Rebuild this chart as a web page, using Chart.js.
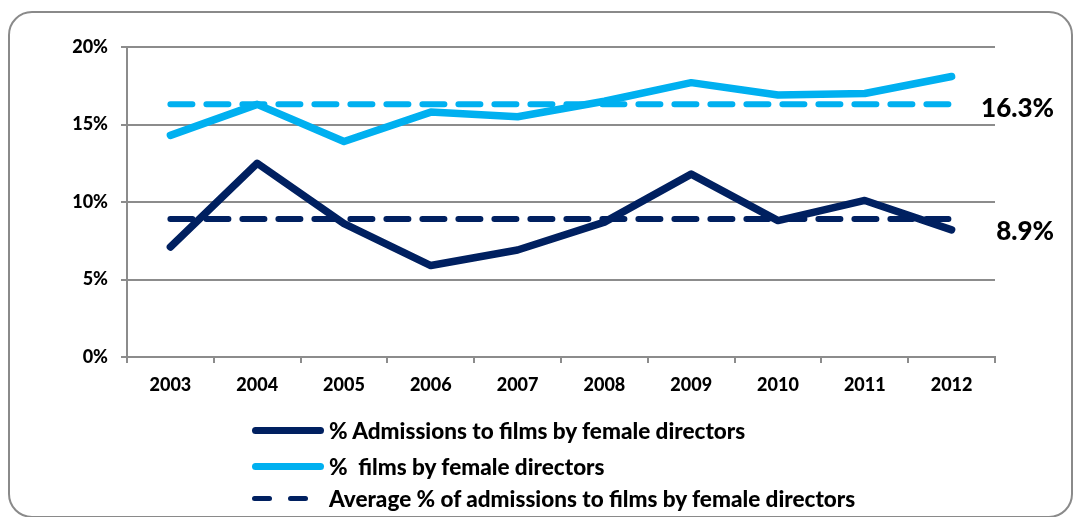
<!DOCTYPE html>
<html><head><meta charset="utf-8">
<script src="https://cdn.jsdelivr.net/npm/chart.js@4/dist/chart.umd.min.js"></script>
<style>
html,body{margin:0;padding:0;background:#fff;}
#wrap{position:relative;width:1075px;height:517px;overflow:hidden;font-family:Lato,"DejaVu Sans",sans-serif;}
#frame{position:absolute;left:8px;top:11px;width:1065px;height:507px;border:2.5px solid #8a8a8a;border-radius:24px;box-sizing:border-box;}
#c{position:absolute;left:0;top:0;}
#legend{position:absolute;left:252px;top:412px;}
.item{display:flex;align-items:center;font-weight:900;font-size:22.5px;color:#000;white-space:pre;}
.item:nth-child(1){height:36px;}
.item:nth-child(2){height:36px;}
.item:nth-child(3){height:28px;}
.sw{width:72px;height:7px;margin-right:5px;position:relative;flex:none;}
.sw.solid{border-radius:4px;}
.sw .d{position:absolute;top:1px;height:5px;width:20px;border-radius:3px;}
</style>
</head><body>
<div id="wrap">
<canvas id="c" width="1075" height="517"></canvas>
<div id="frame"></div>
<div id="legend"></div>
</div>
<script>
const years = ['2003','2004','2005','2006','2007','2008','2009','2010','2011','2012'];
const admissions = [7.1, 12.5, 8.6, 5.9, 6.9, 8.7, 11.8, 8.8, 10.1, 8.2];
const films = [14.3, 16.3, 13.9, 15.8, 15.5, 16.5, 17.7, 16.9, 17.0, 18.1];
const avgAdmissions = [8.9, 8.9, 8.9, 8.9, 8.9, 8.9, 8.9, 8.9, 8.9, 8.9];
const avgFilms = [16.3, 16.3, 16.3, 16.3, 16.3, 16.3, 16.3, 16.3, 16.3, 16.3];
const yTicks = [0, 5, 10, 15, 20];
const seriesNames = ['% Admissions to films by female directors', '%  films by female directors', 'Average % of admissions to films by female directors', 'Average % of films by female directors'];
const avgLabels = ['16.3%', '8.9%'];

const DARK = '#002060', LIGHT = '#00B0F0', GRID = '#8c8c8c';

const avgLabelPlugin = {
  id: 'avgLabels',
  afterDatasetsDraw(chart) {
    const ctx = chart.ctx, y = chart.scales.y, area = chart.chartArea;
    ctx.save();
    ctx.font = '900 26px Lato';
    ctx.fillStyle = '#000';
    ctx.textAlign = 'right';
    ctx.textBaseline = 'middle';
    ctx.fillText(avgLabels[0], area.right + 59, y.getPixelForValue(avgFilms[0]) + 4);
    ctx.fillText(avgLabels[1], area.right + 59, y.getPixelForValue(avgAdmissions[0]) + 13);
    ctx.restore();
  }
};

const chart = new Chart(document.getElementById('c'), {
  type: 'line',
  data: {
    labels: years,
    datasets: [
      {label: seriesNames[0], data: admissions, borderColor: DARK, borderWidth: 7.5, borderCapStyle: 'round', borderJoinStyle: 'round', pointRadius: 0, tension: 0, legend: true},
      {label: seriesNames[1], data: films, borderColor: LIGHT, borderWidth: 7.5, borderCapStyle: 'round', borderJoinStyle: 'round', pointRadius: 0, tension: 0, legend: true},
      {label: seriesNames[2], data: avgAdmissions, borderColor: DARK, borderWidth: 6, borderDash: [22, 14], borderCapStyle: 'round', pointRadius: 0, tension: 0, legend: true},
      {label: seriesNames[3], data: avgFilms, borderColor: LIGHT, borderWidth: 6, borderDash: [22, 14], borderCapStyle: 'round', pointRadius: 0, tension: 0, legend: false}
    ]
  },
  options: {
    responsive: false,
    animation: false,
    devicePixelRatio: 1,
    layout: {padding: {left: 0, top: 47, right: 80, bottom: 0}},
    plugins: {legend: {display: false}, tooltip: {enabled: false}},
    scales: {
      x: {
        offset: true,
        grid: {display: true, drawOnChartArea: false, drawTicks: true, tickLength: 6, color: GRID, lineWidth: 2, offset: true},
        border: {display: true, color: GRID, width: 2},
        ticks: {font: {family: 'Lato', weight: '900', size: 18}, color: '#000', padding: 11, maxRotation: 0},
        afterFit(s) { s.height = 160; }
      },
      y: {
        min: 0, max: 20,
        afterBuildTicks(s) { s.ticks = yTicks.map(v => ({value: v})); },
        grid: {color: GRID, lineWidth: 2, tickLength: 6},
        border: {display: true, color: GRID, width: 2},
        ticks: {font: {family: 'Lato', weight: '900', size: 18}, color: '#000', padding: 13, callback: v => v + '%'},
        afterFit(s) { s.width = 127; }
      }
    }
  },
  plugins: [avgLabelPlugin]
});

// HTML legend built from the datasets
const leg = document.getElementById('legend');
chart.data.datasets.filter(d => d.legend).forEach(d => {
  const row = document.createElement('div');
  row.className = 'item';
  const sw = document.createElement('div');
  if (d.borderDash) {
    sw.className = 'sw';
    for (const left of [0, 36]) {
      const dd = document.createElement('div');
      dd.className = 'd';
      dd.style.left = left + 'px';
      dd.style.background = d.borderColor;
      sw.appendChild(dd);
    }
  } else {
    sw.className = 'sw solid';
    sw.style.background = d.borderColor;
  }
  row.appendChild(sw);
  const t = document.createElement('span');
  t.textContent = d.label;
  row.appendChild(t);
  leg.appendChild(row);
});
</script>
</body></html>
